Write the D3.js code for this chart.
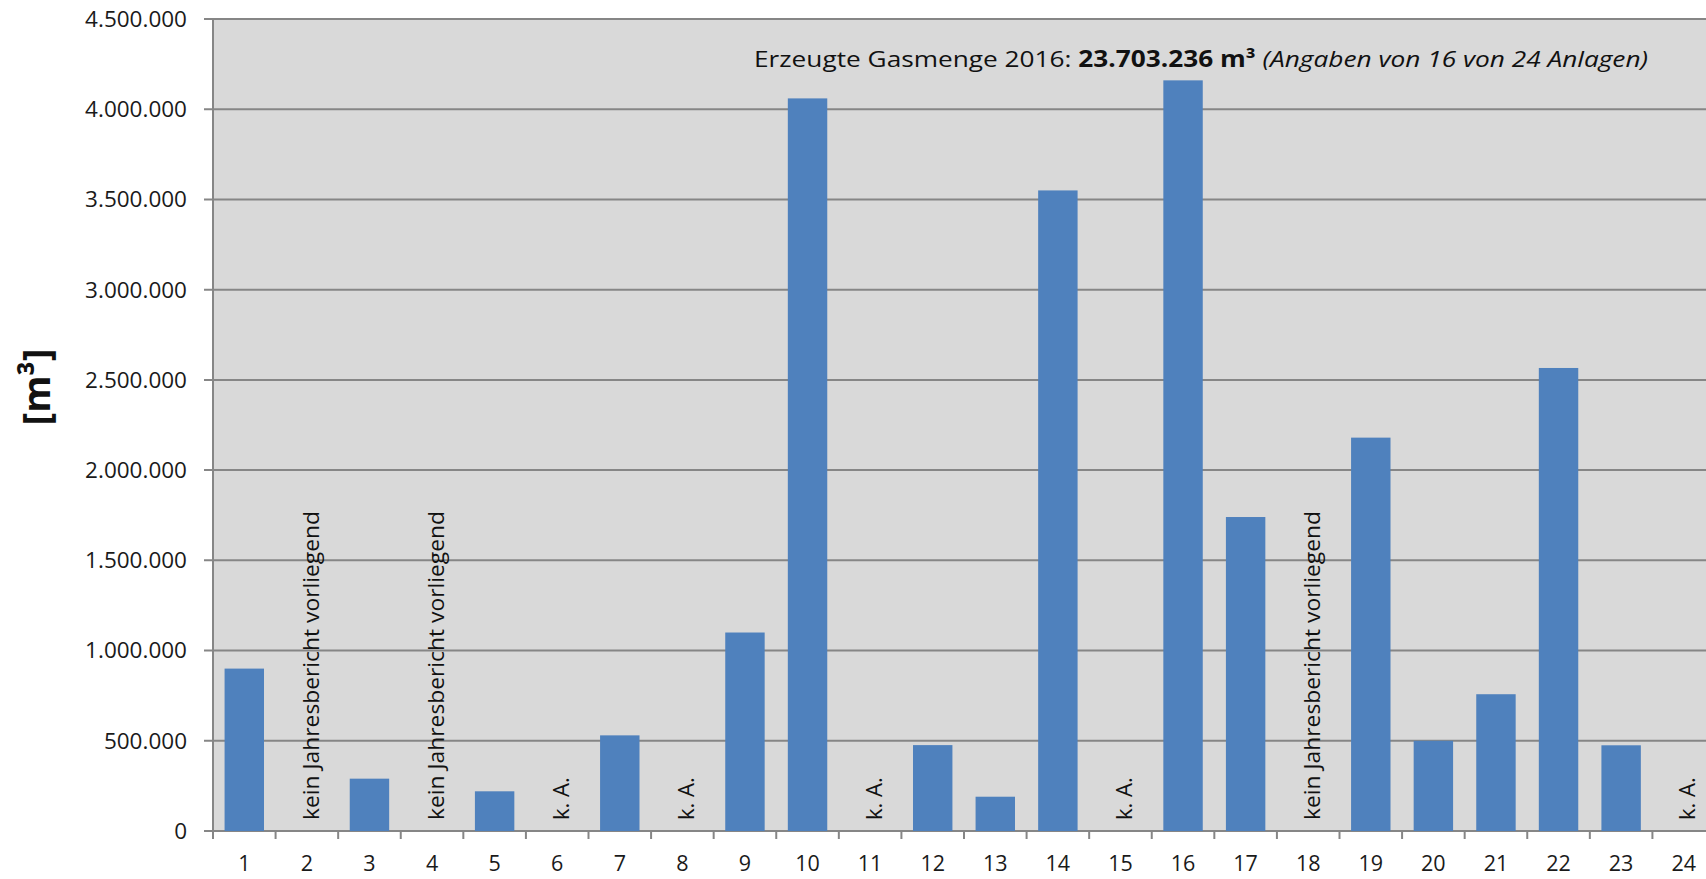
<!DOCTYPE html>
<html><head><meta charset="utf-8">
<script src="https://cdn.jsdelivr.net/npm/d3@7"></script>
<style>html,body{margin:0;padding:0;background:#fff;overflow:hidden}</style>
</head><body>
<svg id="c" width="1706" height="879"></svg>
<script>
const categories = ["1","2","3","4","5","6","7","8","9","10","11","12","13","14","15","16","17","18","19","20","21","22","23","24"];
const values = [900000,null,290000,null,220000,null,530000,null,1100000,4060000,null,476000,190000,3550000,null,4160000,1740000,null,2180000,500000,758000,2566000,475000,null];
const missingLabels = ["","kein Jahresbericht vorliegend","","kein Jahresbericht vorliegend","","k. A.","","k. A.","","","k. A.","","","","k. A.","","","kein Jahresbericht vorliegend","","","","","","k. A."];
const yTicks = [0,500000,1000000,1500000,2000000,2500000,3000000,3500000,4000000,4500000];
const yTitle = "[m³]";
const noteParts = [["Erzeugte Gasmenge 2016: ","normal","normal"],["23.703.236 m³ ","bold","normal"],["(Angaben von 16 von 24 Anlagen)","normal","italic"]];

(function(){
const svg = d3.select("#c");
const font = "'Open Sans', sans-serif";
const pLeft = 213, pTop = 19, pBottom = 831, pRight = 1715;
const x = d3.scaleBand().domain(categories).range([pLeft, pRight]).paddingInner(0.37).paddingOuter(0.185);
const xb = d3.scaleBand().domain(categories).range([pLeft, pRight]);
const y = d3.scaleLinear().domain([0, 4500000]).range([pBottom, pTop]);
const fmt = v => d3.format(",")(v).replace(/,/g, ".");

svg.append("rect").attr("x", pLeft).attr("y", pTop).attr("width", 1706 - pLeft).attr("height", pBottom - pTop).attr("fill", "#d9d9d9");

svg.append("g").selectAll("line").data(yTicks).join("line")
  .attr("x1", pLeft - 9).attr("x2", 1706).attr("y1", d => y(d)).attr("y2", d => y(d))
  .attr("stroke", "#868686").attr("stroke-width", 2);

svg.append("line").attr("x1", pLeft).attr("x2", pLeft).attr("y1", pTop).attr("y2", pBottom + 8).attr("stroke", "#868686").attr("stroke-width", 2);

svg.append("g").selectAll("line").data(categories).join("line")
  .attr("x1", d => xb(d) + xb.bandwidth()).attr("x2", d => xb(d) + xb.bandwidth())
  .attr("y1", pBottom).attr("y2", pBottom + 8).attr("stroke", "#868686").attr("stroke-width", 2);

svg.append("g").selectAll("text").data(yTicks).join("text")
  .attr("x", 187).attr("y", d => y(d)).attr("dy", "0.35em").attr("text-anchor", "end")
  .attr("font-family", font).attr("font-size", 22.5).attr("fill", "#1a1a1a").text(fmt);

svg.append("g").selectAll("text").data(categories).join("text")
  .attr("x", d => xb(d) + xb.bandwidth() / 2).attr("y", 871).attr("text-anchor", "middle")
  .attr("font-family", font).attr("font-size", 21.5).attr("fill", "#1a1a1a").text(d => d);

svg.append("g").selectAll("rect").data(categories.map((c, i) => ({c, v: values[i]})).filter(d => d.v != null)).join("rect")
  .attr("x", d => x(d.c)).attr("width", x.bandwidth())
  .attr("y", d => y(d.v)).attr("height", d => y(0) - y(d.v))
  .attr("fill", "#4f81bd");

svg.append("g").selectAll("text").data(categories.map((c, i) => ({c, t: missingLabels[i]})).filter(d => d.t)).join("text")
  .attr("transform", d => `translate(${xb(d.c) + xb.bandwidth() / 2 + 4},${pBottom - 11}) rotate(-90)`)
  .attr("dy", "0.35em")
  .attr("font-family", font).attr("font-size", 22).attr("fill", "#111")
  .each(function(d) { if (d.t.length > 10) d3.select(this).attr("textLength", 309).attr("lengthAdjust", "spacingAndGlyphs"); })
  .text(d => d.t);

svg.append("text").attr("transform", "translate(37,387) rotate(-90)").attr("text-anchor", "middle").attr("dy", "0.35em")
  .attr("font-family", font).attr("font-size", 38).attr("font-weight", "bold").attr("fill", "#111").text(yTitle);

const note = svg.append("text").attr("x", 754).attr("y", 67)
  .attr("font-family", font).attr("font-size", 22.5).attr("fill", "#111")
  .attr("textLength", 894).attr("lengthAdjust", "spacingAndGlyphs");
note.selectAll("tspan").data(noteParts).join("tspan")
  .attr("font-weight", d => d[1]).attr("font-style", d => d[2]).text(d => d[0]);
})();
</script>
</body></html>
